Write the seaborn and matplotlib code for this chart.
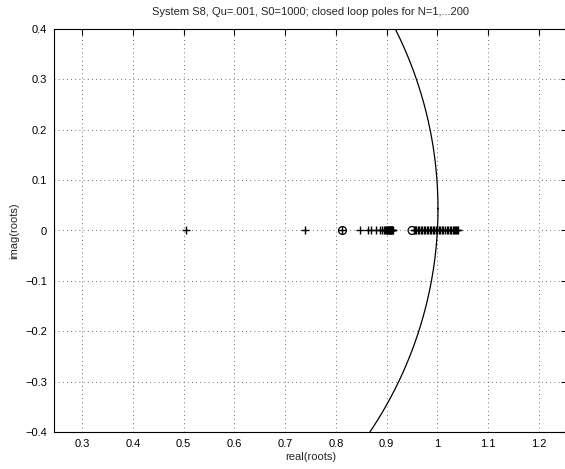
import numpy as np
import pandas as pd
import matplotlib
matplotlib.use("Agg")
import matplotlib.pyplot as plt
import seaborn as sns

# Closed-loop pole locations (all real) for horizons N = 1..200
pole_re = [
    0.505, 0.740, 0.812, 0.847, 0.864, 0.870, 0.879,
    0.887, 0.891, 0.894, 0.896, 0.898, 0.900, 0.901, 0.903, 0.904,
    0.905, 0.906, 0.907, 0.908, 0.909, 0.910, 0.911, 0.912,
    0.953, 0.956, 0.958, 0.961, 0.964, 0.967, 0.970, 0.973, 0.976,
    0.979, 0.982, 0.985, 0.988, 0.991, 0.994, 0.997, 1.000, 1.003,
    1.006, 1.009, 1.012, 1.015, 1.018, 1.021, 1.024, 1.027, 1.030,
    1.032, 1.034, 1.036, 1.038, 1.040,
]
pole_im = [0.0] * len(pole_re)

# Open-loop poles marked with circles
open_re = [0.813, 0.950]
open_im = [0.0, 0.0]

# Stability boundary arc (centre and radius)
arc_center = (0.2023, 0.0431)
arc_radius = 0.7989
theta = np.linspace(0, 2 * np.pi, 1441)
arc = pd.DataFrame({
    "re": arc_center[0] + arc_radius * np.cos(theta),
    "im": arc_center[1] + arc_radius * np.sin(theta),
})

x_ticks = [0.3, 0.4, 0.5, 0.6, 0.7, 0.8, 0.9, 1.0, 1.1, 1.2]
x_tick_labels = ["0.3", "0.4", "0.5", "0.6", "0.7", "0.8", "0.9", "1", "1.1", "1.2"]
y_ticks = [-0.4, -0.3, -0.2, -0.1, 0.0, 0.1, 0.2, 0.3, 0.4]
y_tick_labels = ["\u22120.4", "\u22120.3", "\u22120.2", "\u22120.1", "0", "0.1", "0.2", "0.3", "0.4"]

sns.set_style("white")
plt.rcParams["font.family"] = ["Liberation Sans", "DejaVu Sans"]

W, H = 565, 469
fig = plt.figure(figsize=(W / 100, H / 100), dpi=100)
ax = fig.add_axes([54 / W, 37 / H, 513 / W, 403 / H])

poles = pd.DataFrame({"re": pole_re, "im": pole_im})
opens = pd.DataFrame({"re": open_re, "im": open_im})

sns.lineplot(data=arc, x="re", y="im", sort=False, estimator=None,
             color="black", linewidth=0.9, ax=ax, zorder=3)
sns.scatterplot(data=poles, x="re", y="im", marker="+", s=32, color="black",
                linewidth=1.0, ax=ax, zorder=4)
sns.scatterplot(data=opens, x="re", y="im", marker="o", s=32, facecolor="none",
                edgecolor="black", linewidth=0.9, ax=ax, zorder=4)

ax.set_xlim(0.2446, 1.2554)
ax.set_ylim(-0.4, 0.4)
ax.set_xticks(x_ticks)
ax.set_xticklabels(x_tick_labels)
ax.set_yticks(y_ticks)
ax.set_yticklabels(y_tick_labels)

ax.grid(True, linestyle=(0, (1, 4)), color="#404040", linewidth=0.6)
ax.tick_params(direction="in", length=4, width=0.8, top=True, right=True,
               labelsize=8, colors="black", pad=5)
for sp in ax.spines.values():
    sp.set_color("black")
    sp.set_linewidth(0.8)

ax.set_xlabel("real(roots)", fontsize=8, labelpad=2)
ax.set_ylabel("imag(roots)", fontsize=8, labelpad=4)
ax.set_title("System S8, Qu=.001, S0=1000; closed loop poles for N=1,...200",
             fontsize=8, pad=10)

fig.savefig("out.png", dpi=100)
